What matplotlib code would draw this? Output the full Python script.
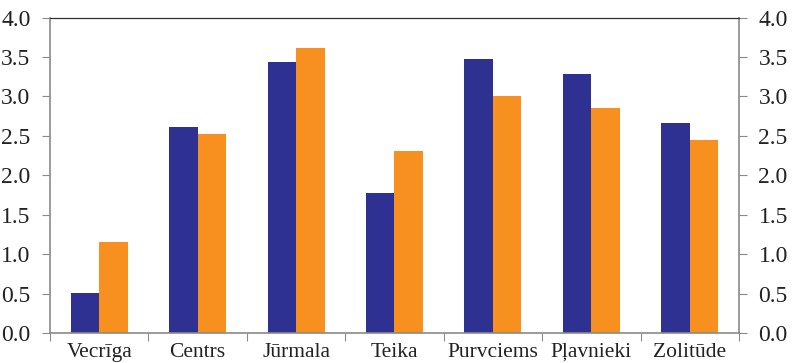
import matplotlib.pyplot as plt
import numpy as np

districts = ["Vecrīga", "Centrs", "Jūrmala", "Teika", "Purvciems", "Pļavnieki", "Zolitūde"]
series_blue = [0.51, 2.61, 3.43, 1.77, 3.47, 3.28, 2.66]
series_orange = [1.16, 2.52, 3.61, 2.31, 3.00, 2.85, 2.45]
y_ticks = [0.0, 0.5, 1.0, 1.5, 2.0, 2.5, 3.0, 3.5, 4.0]

BLUE = "#2e3192"
ORANGE = "#f7901e"
GREY = "#8a8a8a"

plt.rcParams["font.family"] = ["Liberation Serif", "DejaVu Serif"]

fig = plt.figure(figsize=(7.93, 3.63), dpi=100)
ax = fig.add_axes([50 / 793, 30 / 363, 689 / 793, 315.5 / 363])

x = np.arange(len(districts))
width = 0.29
ax.bar(x - width / 2, series_blue, width, color=BLUE)
ax.bar(x + width / 2, series_orange, width, color=ORANGE)

ax.set_xlim(-0.5, len(districts) - 0.5)
ax.set_ylim(0, 4.0)
ax.set_yticks(y_ticks)
ax.set_yticklabels([f"{v:.1f}" for v in y_ticks])

# category boundaries carry the ticks, names sit between them
ax.set_xticks(np.arange(len(districts) + 1) - 0.5)
ax.set_xticklabels([])
ax.set_xticks(x, minor=True)
ax.set_xticklabels(districts, minor=True)
ax.tick_params(axis="x", which="minor", length=0, pad=7, labelsize=15.5, labelcolor="#222222")
ax.tick_params(axis="x", which="major", direction="out", length=6, color=GREY)

ax.tick_params(axis="y", direction="out", length=6, color=GREY, labelsize=17, labelcolor="#222222",
               left=True, right=True, labelleft=True, labelright=True, pad=8)

for side in ("left", "right", "bottom"):
    ax.spines[side].set_color(GREY)
    ax.spines[side].set_linewidth(1.2)
ax.spines["top"].set_color("#333333")
ax.spines["top"].set_linewidth(0.9)

fig.savefig("out.png", dpi=100)
